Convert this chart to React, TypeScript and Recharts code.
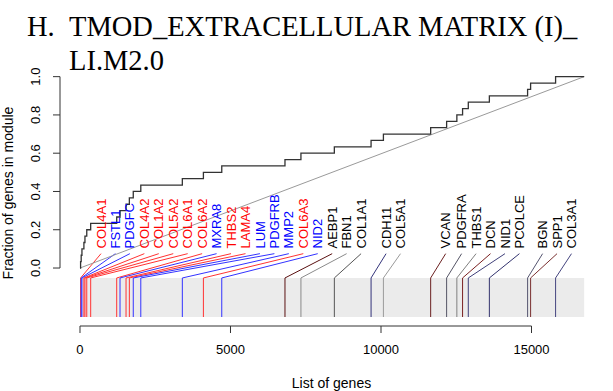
import React from 'react';
import { ComposedChart, Line, XAxis, YAxis, ReferenceArea, ReferenceLine, Scatter } from 'recharts';

// genes in the module, in ranked order
const moduleGenes = [
  'COL4A1', 'FSTL1', 'PDGFC', 'COL4A2', 'COL1A2', 'COL5A2', 'COL6A1', 'COL6A2',
  'MXRA8', 'THBS2', 'LAMA4', 'LUM', 'PDGFRB', 'MMP2', 'COL6A3', 'NID2',
  'AEBP1', 'FBN1', 'COL1A1', 'CDH11', 'COL5A1', 'VCAN', 'PDGFRA', 'THBS1',
  'DCN', 'NID1', 'PCOLCE', 'BGN', 'SPP1', 'COL3A1',
];
// position of each gene in the list of genes
const geneRanks = [
  20, 40, 65, 130, 165, 225, 355, 1220,
  1330, 1530, 1640, 1770, 2020, 3400, 4100, 4710,
  6810, 7340, 8450, 9670, 10080, 11650, 12180, 12520,
  12710, 12900, 13600, 14870, 14970, 15800,
];
const totalGenes = 16750;
const xTicks = [0, 5000, 10000, 15000];
const yTicks = [0, 0.2, 0.4, 0.6, 0.8, 1];

// colours
const RED = '#ff0000';
const BLUE = '#0000ff';
const BLACK = '#000000';
const labelColors = [
  RED, BLUE, BLUE, RED, RED, RED, RED, RED,
  BLUE, RED, RED, BLUE, BLUE, BLUE, RED, BLUE,
  BLACK, BLACK, BLACK, BLACK, BLACK, BLACK, BLACK, BLACK,
  BLACK, BLACK, BLACK, BLACK, BLACK, BLACK,
];
const tickColors = [
  '#ff3333', '#3333ff', '#3333ff', '#ff3333', '#ff3333', '#ff3333', '#ff3333', '#ff3333',
  '#3333ff', '#ff3333', '#ff3333', '#3333ff', '#3333ff', '#3333ff', '#ff3333', '#3333ff',
  '#5a1010', '#8a8a8a', '#555555', '#33337a', '#9a9a9a', '#6b2020', '#555566', '#808080',
  '#7a2020', '#40407a', '#33336e', '#555570', '#7a3030', '#45457f',
];

const FONT = '"Liberation Sans", Arial, sans-serif';
const W = 613;
const H = 391;

const X_MIN = -664;
const X_MAX = 17375;
const Y_MIN = -0.303;
const Y_MAX = 1.087;
const BAND_TOP = -0.052;
const BAND_BOTTOM = -0.256;
const LINK_TOP = 0.075;
const LABEL_BASE = 0.102;

// label spreading (R style: shift right, keep a minimum gap)
const pxPerGene = 543 / (X_MAX - X_MIN);
const LABEL_SHIFT = 15 / pxPerGene;
const LABEL_GAP = 14.45 / pxPerGene;
const LABEL_MIN = 21 / pxPerGene;

const labelPos: number[] = [];
geneRanks.forEach((r, i) => {
  const lo = i === 0 ? LABEL_MIN : labelPos[i - 1] + LABEL_GAP;
  labelPos.push(Math.max(r + LABEL_SHIFT, lo));
});

const stepData = [
  { x: 0, y: 0 },
  ...geneRanks.map((r, i) => ({ x: r, y: (i + 1) / geneRanks.length })),
  { x: totalGenes, y: 1 },
];
const diagData = [{ x: 0, y: 0 }, { x: totalGenes, y: 1 }];
const labelData = moduleGenes.map((g, i) => ({
  x: labelPos[i],
  y: LABEL_BASE,
  name: g,
  color: labelColors[i],
}));

const GeneLabel = (props: any) => {
  const { cx, cy, payload } = props;
  return (
    <text
      transform={`translate(${cx + 4.6},${cy}) rotate(-90)`}
      fill={payload.color}
      fontSize={13}
      fontFamily={FONT}
    >
      {payload.name}
    </text>
  );
};

const YTick = (props: any) => {
  const { x, y, payload } = props;
  return (
    <text
      transform={`translate(${x - 11.4},${y}) rotate(-90)`}
      textAnchor="middle"
      fill="#000"
      fontSize={13}
      fontFamily={FONT}
    >
      {payload.value.toFixed(1)}
    </text>
  );
};

export default function App() {
  return (
    <div style={{ position: 'fixed', left: 0, top: 0, width: W, height: H, background: '#fff' }}>
      <ComposedChart width={W} height={H} margin={{ top: 60, right: 10, bottom: 35, left: 0 }}>
        <XAxis
          type="number"
          dataKey="x"
          domain={[X_MIN, X_MAX]}
          allowDataOverflow
          ticks={xTicks}
          interval={0}
          axisLine={false}
          tickLine={{ stroke: '#333' }}
          tickSize={7}
          tickMargin={12}
          height={30}
          tick={{ fill: '#000', fontSize: 13, fontFamily: FONT }}
        />
        <YAxis
          type="number"
          dataKey="y"
          domain={[Y_MIN, Y_MAX]}
          allowDataOverflow
          ticks={yTicks}
          interval={0}
          axisLine={false}
          tickLine={{ stroke: '#333' }}
          tickSize={7}
          width={60}
          tick={<YTick />}
        />
        <ReferenceLine segment={[{ x: X_MIN, y: 0 }, { x: X_MIN, y: 1 }]} stroke="#333" ifOverflow="visible" />
        <ReferenceLine segment={[{ x: 0, y: Y_MIN }, { x: 15000, y: Y_MIN }]} stroke="#333" ifOverflow="visible" />
        <ReferenceArea
          x1={0}
          x2={totalGenes}
          y1={BAND_BOTTOM}
          y2={BAND_TOP}
          fill="#ebebeb"
          fillOpacity={1}
          stroke="none"
        />
        {geneRanks.map((r, i) => (
          <ReferenceLine
            key={`band-${i}`}
            segment={[{ x: r, y: BAND_BOTTOM }, { x: r, y: BAND_TOP }]}
            stroke={tickColors[i]}
            strokeWidth={1}
          />
        ))}
        {geneRanks.map((r, i) => (
          <ReferenceLine
            key={`link-${i}`}
            segment={[{ x: r, y: BAND_TOP }, { x: labelPos[i], y: LINK_TOP }]}
            stroke={tickColors[i]}
            strokeWidth={1}
          />
        ))}
        <Line
          data={diagData}
          dataKey="y"
          type="linear"
          stroke="#9a9a9a"
          strokeWidth={1}
          dot={false}
          isAnimationActive={false}
        />
        <Line
          data={stepData}
          dataKey="y"
          type="stepAfter"
          stroke="#333"
          strokeWidth={1.3}
          dot={false}
          isAnimationActive={false}
        />
        <Scatter data={labelData} dataKey="y" shape={<GeneLabel />} isAnimationActive={false} />
      </ComposedChart>
      <svg width={W} height={H} style={{ position: 'absolute', left: 0, top: 0, pointerEvents: 'none' }}>
        <g fontFamily='"Liberation Serif", "Times New Roman", serif' fontSize={28.5} fill="#000">
          <text x={27} y={36}>H.</text>
          <text x={69} y={36}>TMOD_EXTRACELLULAR MATRIX (I)_</text>
          <text x={69} y={70}>LI.M2.0</text>
        </g>
        <text transform="translate(13,193) rotate(-90)" textAnchor="middle" fontSize={14} fontFamily={FONT} fill="#000">
          Fraction of genes in module
        </text>
        <text x={331.5} y={388} textAnchor="middle" fontSize={14} fontFamily={FONT} fill="#000">
          List of genes
        </text>
      </svg>
    </div>
  );
}
